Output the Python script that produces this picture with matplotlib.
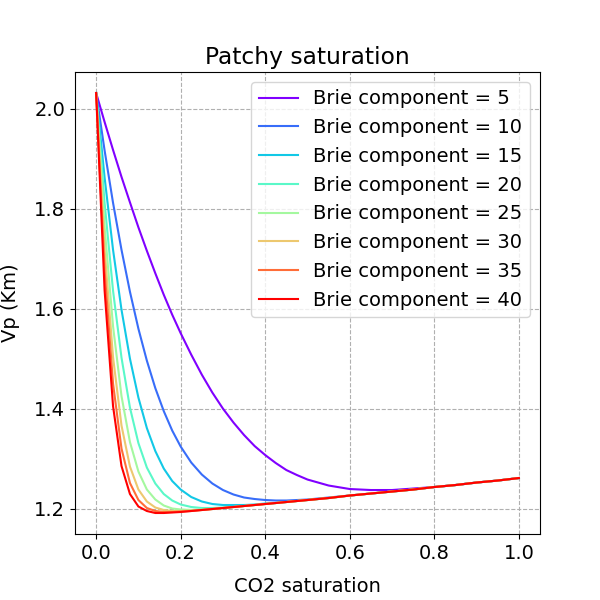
import numpy as np
import matplotlib
matplotlib.use("Agg")
import matplotlib.pyplot as plt

plt.rcParams['font.size'] = 14

co2_sat = [0.0, 0.02, 0.04, 0.06, 0.08, 0.10, 0.12, 0.14, 0.16, 0.18, 0.20,
           0.225, 0.25, 0.275, 0.30, 0.325, 0.35, 0.375, 0.40, 0.425, 0.45, 0.475, 0.50,
           0.55, 0.60, 0.65, 0.70, 0.75, 0.80, 0.85, 0.90, 0.95, 1.00]

brie_exponents = [5, 10, 15, 20, 25, 30, 35, 40]

# Vp (Km) for each Brie component
vp_e5 = [2.032, 1.974, 1.918, 1.864, 1.813, 1.763, 1.716, 1.671, 1.628, 1.588, 1.551,
         1.508, 1.468, 1.432, 1.400, 1.372, 1.347, 1.325, 1.307, 1.291, 1.277, 1.267, 1.258,
         1.246, 1.239, 1.237, 1.237, 1.240, 1.243, 1.247, 1.252, 1.256, 1.261]
vp_e10 = [2.032, 1.917, 1.812, 1.718, 1.634, 1.560, 1.496, 1.441, 1.395, 1.356, 1.324,
          1.292, 1.268, 1.250, 1.237, 1.228, 1.222, 1.219, 1.217, 1.216, 1.216, 1.217, 1.218,
          1.222, 1.226, 1.230, 1.234, 1.238, 1.243, 1.247, 1.252, 1.256, 1.261]
vp_e15 = [2.032, 1.863, 1.718, 1.598, 1.500, 1.422, 1.361, 1.315, 1.280, 1.255, 1.238,
          1.223, 1.214, 1.209, 1.207, 1.207, 1.207, 1.208, 1.210, 1.211, 1.213, 1.215, 1.217,
          1.221, 1.226, 1.230, 1.234, 1.238, 1.243, 1.247, 1.252, 1.256, 1.261]
vp_e20 = [2.032, 1.812, 1.636, 1.502, 1.402, 1.331, 1.282, 1.250, 1.229, 1.216, 1.208,
          1.203, 1.201, 1.201, 1.202, 1.203, 1.205, 1.207, 1.209, 1.211, 1.213, 1.215, 1.217,
          1.221, 1.226, 1.230, 1.234, 1.238, 1.243, 1.247, 1.252, 1.256, 1.261]
vp_e25 = [2.032, 1.764, 1.565, 1.425, 1.333, 1.274, 1.238, 1.218, 1.206, 1.200, 1.198,
          1.197, 1.198, 1.199, 1.201, 1.203, 1.205, 1.207, 1.209, 1.211, 1.213, 1.215, 1.217,
          1.221, 1.226, 1.230, 1.234, 1.238, 1.243, 1.247, 1.252, 1.256, 1.261]
vp_e30 = [2.032, 1.719, 1.503, 1.366, 1.284, 1.238, 1.214, 1.202, 1.197, 1.195, 1.195,
          1.196, 1.197, 1.199, 1.201, 1.203, 1.205, 1.207, 1.209, 1.211, 1.213, 1.215, 1.217,
          1.221, 1.226, 1.230, 1.234, 1.238, 1.243, 1.247, 1.252, 1.256, 1.261]
vp_e35 = [2.032, 1.677, 1.450, 1.320, 1.251, 1.217, 1.201, 1.195, 1.193, 1.193, 1.194,
          1.195, 1.197, 1.199, 1.201, 1.203, 1.205, 1.207, 1.209, 1.211, 1.213, 1.215, 1.217,
          1.221, 1.226, 1.230, 1.234, 1.238, 1.243, 1.247, 1.252, 1.256, 1.261]
vp_e40 = [2.032, 1.637, 1.405, 1.285, 1.229, 1.204, 1.195, 1.191, 1.191, 1.192, 1.193,
          1.195, 1.197, 1.199, 1.201, 1.203, 1.205, 1.207, 1.209, 1.211, 1.213, 1.215, 1.217,
          1.221, 1.226, 1.230, 1.234, 1.238, 1.243, 1.247, 1.252, 1.256, 1.261]

curves = [vp_e5, vp_e10, vp_e15, vp_e20, vp_e25, vp_e30, vp_e35, vp_e40]
colors = plt.cm.rainbow(np.linspace(0, 1, len(curves)))

fig = plt.figure(figsize=(6, 6), dpi=100)
for e, vp, c in zip(brie_exponents, curves, colors):
    plt.plot(co2_sat, vp, color=c, label='Brie component = ' + str(e))

plt.title('Patchy saturation')
plt.xlabel('CO2 saturation', labelpad=10)
plt.ylabel('Vp (Km)', labelpad=10)
plt.grid(linestyle='--')
plt.legend(loc='upper right')
plt.savefig('out.png', dpi=100)
